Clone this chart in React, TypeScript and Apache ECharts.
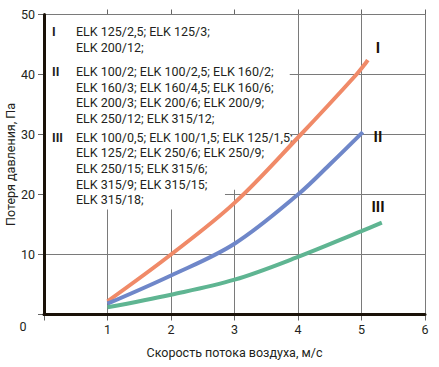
import React, { useEffect, useRef } from "react";
import * as echarts from "echarts";

const xName = "Скорость потока воздуха, м/с";
const yName = "Потеря давления, Па";

const seriesNames = ["I", "II", "III"];
const xI = [1, 2, 3, 4, 4.92, 5.1];
const yI = [2.2, 10, 18.6, 29.5, 40, 42.4];
const xII = [1, 2, 3, 4, 4.5, 5.02];
const yII = [1.8, 6.5, 11.8, 20, 25, 30.4];
const xIII = [1, 2, 3, 4, 5, 5.32];
const yIII = [1.2, 3.3, 5.8, 9.6, 13.9, 15.3];

const xTicks = [0, 1, 2, 3, 4, 5, 6];
const yTicks = [0, 10, 20, 30, 40, 50];

// visible extent of grid lines that pass behind the text block (data units)
const vGridTop: Record<number, number> = { 1: 17.5, 2: 17.5, 3: 20.8, 4: 50, 5: 50, 6: 50 };
const hGridLeft: Record<number, number> = { 10: 0, 20: 2.85, 30: 3.87, 40: 3.87, 50: 0 };

const groupNumerals = ["I", "II", "III"];
const groupLines = [
  ["ELK 125/2,5; ELK 125/3;", "ELK 200/12;"],
  [
    "ELK 100/2; ELK 100/2,5; ELK 160/2;",
    "ELK 160/3; ELK 160/4,5; ELK 160/6;",
    "ELK 200/3; ELK 200/6; ELK 200/9;",
    "ELK 250/12; ELK 315/12;",
  ],
  [
    "ELK 100/0,5; ELK 100/1,5; ELK 125/1,5;",
    "ELK 125/2; ELK 250/6; ELK 250/9;",
    "ELK 250/15; ELK 315/6;",
    "ELK 315/9; ELK 315/15;",
    "ELK 315/18;",
  ],
];

const colors = ["#f08a68", "#6f87c9", "#5fb592"];
const FONT = "Roboto";
const TXT = "#231f20";
const W = 439;
const H = 367;
const GRID = { left: 44, right: 14, top: 14.5, bottom: 52.5, outerBoundsMode: "none" };

function zip(xs: number[], ys: number[]) {
  return xs.map((x, i) => [x, ys[i]]);
}

export default function App() {
  const ref = useRef<HTMLDivElement>(null);
  useEffect(() => {
    if (!ref.current) return;

    const tmpDiv = document.createElement("div");
    const tmp = echarts.init(tmpDiv, null, { renderer: "svg", width: W, height: H });
    tmp.setOption({
      animation: false,
      grid: GRID,
      xAxis: { type: "value", min: 0, max: 6, interval: 1 },
      yAxis: { type: "value", min: 0, max: 50, interval: 10 },
      series: [{ type: "line", data: [] }],
    });
    const px = (x: number, y: number) => tmp.convertToPixel({ gridIndex: 0 }, [x, y]) as number[];

    const graphic: any[] = [];
    const gridFill = { fill: "#7a7a7a" };
    const tickFill = { fill: "#666666" };
    xTicks.forEach((t) => {
      const b = px(t, 0);
      const tp = px(t, 50);
      const bx = Math.round(b[0] - 0.5);
      graphic.push({ type: "rect", z: 50, shape: { x: bx, y: b[1] + 1, width: 1, height: 5 }, style: tickFill });
      if (t > 0) {
        graphic.push({ type: "rect", z: 50, shape: { x: bx, y: tp[1] - 5, width: 1, height: 5 }, style: tickFill });
        const s = px(t, vGridTop[t])[1];
        graphic.push({ type: "rect", z: 50, shape: { x: bx, y: s, width: 1, height: b[1] - s }, style: gridFill });
      }
    });
    yTicks.forEach((t) => {
      const p = px(0, t);
      const r = px(6, t);
      const py = Math.round(p[1] - 0.5);
      graphic.push({ type: "rect", z: 50, shape: { x: p[0] - 6, y: py, width: 5, height: 1 }, style: tickFill });
      if (t > 0) {
        const s = px(hGridLeft[t], t)[0];
        graphic.push({ type: "rect", z: 50, shape: { x: s, y: py, width: r[0] + 1 - s, height: 1 }, style: gridFill });
      }
    });
    const o = px(0, 0);
    tmp.dispose();

    graphic.push({
      type: "text", z: 60, x: o[0] - 21, y: o[1] + 12,
      style: { text: "0", fill: TXT, font: `12.5px ${FONT}`, align: "center", verticalAlign: "middle" },
    });
    const lh = 15.7;
    const groupTop = [31.5, 71.5, 137];
    groupNumerals.forEach((n, gi) => {
      graphic.push({
        type: "text", z: 60, x: 52, y: groupTop[gi],
        style: { text: n, fill: TXT, font: `bold 12.5px ${FONT}`, align: "left", verticalAlign: "middle" },
      });
      groupLines[gi].forEach((t, li) => {
        graphic.push({
          type: "text", z: 60, x: 76, y: groupTop[gi] + li * lh,
          style: { text: t, fill: TXT, font: `12.5px ${FONT}`, align: "left", verticalAlign: "middle" },
        });
      });
    });
    const endLabelPos = [
      [378, 48],
      [378, 137],
      [378, 207],
    ];
    seriesNames.forEach((n, i) => {
      graphic.push({
        type: "text", z: 60, x: endLabelPos[i][0], y: endLabelPos[i][1],
        style: { text: n, fill: "#1a1208", font: `bold 15px ${FONT}`, align: "center", verticalAlign: "middle" },
      });
    });

    const chart = echarts.init(ref.current, null, { renderer: "svg" });
    const datas = [zip(xI, yI), zip(xII, yII), zip(xIII, yIII)];
    chart.setOption({
      animation: false,
      grid: GRID,
      xAxis: {
        type: "value", min: 0, max: 6, interval: 1,
        name: xName, nameLocation: "middle", nameGap: 31, nameMoveOverlap: false,
        nameTextStyle: { fontSize: 12.5, color: TXT, fontFamily: FONT },
        axisLine: { show: true, onZero: false, lineStyle: { color: "#1a1208", width: 3 } },
        axisTick: { show: false },
        axisLabel: { showMinLabel: false, color: TXT, fontSize: 12.5, fontFamily: FONT, margin: 8 },
        splitLine: { show: false },
        z: 70,
      },
      yAxis: {
        type: "value", min: 0, max: 50, interval: 10,
        name: yName, nameLocation: "middle", nameGap: 27, nameMoveOverlap: false,
        nameTextStyle: { fontSize: 12.5, color: TXT, fontFamily: FONT },
        axisLine: { show: true, onZero: false, lineStyle: { color: "#1a1208", width: 3 } },
        axisTick: { show: false },
        axisLabel: { showMinLabel: false, color: TXT, fontSize: 12.5, fontFamily: FONT, margin: 9 },
        splitLine: { show: false },
        z: 70,
      },
      series: datas.map((d, i) => ({
        type: "line",
        name: seriesNames[i],
        data: d,
        smooth: 0.35,
        showSymbol: false,
        symbol: "none",
        z: 100,
        lineStyle: { color: colors[i], width: 4, cap: "butt" },
      })),
      graphic,
    });
    return () => chart.dispose();
  }, []);
  return <div ref={ref} style={{ width: W, height: H, position: "absolute", left: 0, top: 0 }} />;
}
